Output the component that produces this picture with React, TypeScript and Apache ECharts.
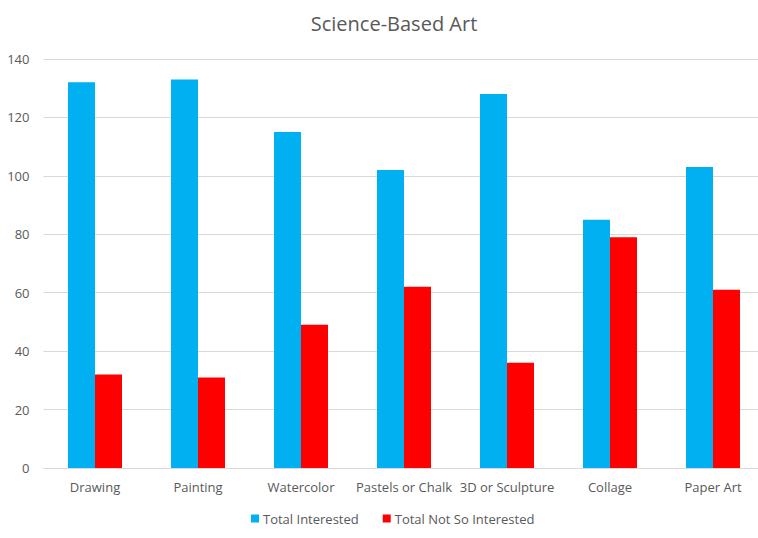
import React, { useEffect, useRef } from "react";
import * as echarts from "echarts";

const categories = ["Drawing", "Painting", "Watercolor", "Pastels or Chalk", "3D or Sculpture", "Collage", "Paper Art"];
const interested = [132, 133, 115, 102, 128, 85, 103];
const notInterested = [32, 31, 49, 62, 36, 79, 61];
const yTicks = { min: 0, max: 140, interval: 20 };

export default function App() {
  const ref = useRef<HTMLDivElement>(null);
  useEffect(() => {
    const chart = echarts.init(ref.current!, null, { renderer: "svg" });
    const font = "'Open Sans', 'Noto Sans', sans-serif";
    chart.setOption({
      animation: false,
      backgroundColor: "#ffffff",
      title: {
        text: "Science-Based Art",
        left: 389,
        textAlign: "center",
        top: 8,
        textStyle: { fontFamily: font, fontSize: 20, fontWeight: "normal", color: "#595959" },
      },
      legend: {
        top: 512,
        left: 251,
        padding: 0,
        itemWidth: 8,
        itemHeight: 8,
        itemGap: 24,
        icon: "rect",
        textStyle: { fontFamily: font, fontSize: 13, color: "#595959", padding: [0, 0, 0, -1] },
        data: ["Total Interested", "Total Not So Interested"],
      },
      grid: { left: 43.5, top: 59, width: 721, height: 409, containLabel: false },
      xAxis: {
        type: "category",
        data: categories,
        axisLine: { lineStyle: { color: "#d9d9d9" } },
        axisTick: { show: false },
        axisLabel: { fontFamily: font, fontSize: 13, color: "#595959", margin: 12, interval: 0 },
      },
      yAxis: {
        type: "value",
        min: yTicks.min,
        max: yTicks.max,
        interval: yTicks.interval,
        axisLine: { show: false },
        axisTick: { show: false },
        splitLine: { lineStyle: { color: "#d9d9d9" } },
        axisLabel: { fontFamily: font, fontSize: 13, color: "#595959", margin: 14 },
      },
      series: [
        {
          name: "Total Interested",
          type: "bar",
          data: interested,
          barWidth: 27,
          barGap: "0%",
          itemStyle: { color: "#00b0f0" },
        },
        {
          name: "Total Not So Interested",
          type: "bar",
          data: notInterested,
          barWidth: 27,
          barGap: "0%",
          itemStyle: { color: "#ff0000" },
        },
      ],
    });
    return () => chart.dispose();
  }, []);
  return (
    <div style={{ position: "fixed", left: 0, top: 0, width: 758, height: 538, overflow: "hidden" }}>
      <div ref={ref} style={{ width: 780, height: 538 }} />
    </div>
  );
}
